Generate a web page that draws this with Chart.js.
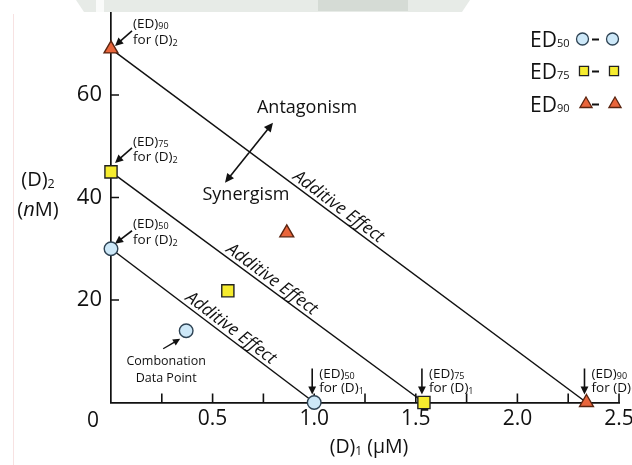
<!DOCTYPE html>
<html>
<head>
<meta charset="utf-8">
<script src="https://cdn.jsdelivr.net/npm/chart.js@4.4.0/dist/chart.umd.min.js"></script>
<style>
	html, body { margin: 0; padding: 0; background: #fff; }
	#wrap { width: 632px; height: 465px; }
</style>
</head>
<body>
<div id="wrap"><canvas id="isoChart" width="632" height="465"></canvas></div>
<script>
/* DATA */
var levels = ['ED50', 'ED75', 'ED90'];
var levelSubs = ['50', '75', '90'];
var d2Alone = [30, 45, 69];          // (D)2 alone, nM  (y intercepts)
var d1Alone = [1.0, 1.54, 2.34];     // (D)1 alone, uM  (x intercepts)
var comboD1 = [0.37, 0.575, 0.865];  // combination data points
var comboD2 = [14, 21.8, 33.1];
var xTickLabels = [0.5, 1.0, 1.5, 2.0, 2.5];
var yTickLabels = [20, 40, 60];

var FONT = '"Open Sans", "DejaVu Sans", sans-serif';
var INK = '#111';

var markers = [
	{ style: 'circle',   radius: 6.8, legendRadius: 6,   fill: '#cde8f8', edge: '#2e4354' },
	{ style: 'rect',     radius: 8.6, legendRadius: 6.4, fill: '#f6ec2e', edge: '#222222' },
	{ style: 'triangle', radius: 8,   legendRadius: 7,   fill: '#e9653b', edge: '#5a2410' }
];

// where the "Additive Effect" label sits along each line (0 = y axis end)
var additivePos = [0.563, 0.497, 0.467];

/* DATASETS */
var datasets = [];
var i;
for (i = 0; i < levels.length; i++) {
	datasets.push({
		label: levels[i] + ' isobole',
		data: [{ x: 0, y: d2Alone[i] }, { x: d1Alone[i], y: 0 }],
		showLine: true,
		borderColor: INK,
		borderWidth: 1.5,
		pointStyle: markers[i].style,
		pointRadius: markers[i].radius,
		pointBackgroundColor: markers[i].fill,
		pointBorderColor: markers[i].edge,
		pointBorderWidth: 1.4,
		clip: false
	});
}
for (i = 0; i < levels.length; i++) {
	datasets.push({
		label: levels[i] + ' combination',
		data: [{ x: comboD1[i], y: comboD2[i] }],
		showLine: false,
		pointStyle: markers[i].style,
		pointRadius: markers[i].radius,
		pointBackgroundColor: markers[i].fill,
		pointBorderColor: markers[i].edge,
		pointBorderWidth: 1.4,
		clip: false
	});
}

/* DRAW HELPERS */
function runs(ctx, parts, x, y, align) {
	// parts: [text, size, dy, italic]
	var w = 0;
	parts.forEach(function (p) {
		ctx.font = (p[3] ? 'italic ' : '') + p[1] + 'px ' + FONT;
		w += ctx.measureText(p[0]).width;
	});
	var cx = align === 'center' ? x - w / 2 : (align === 'right' ? x - w : x);
	ctx.textAlign = 'left';
	ctx.textBaseline = 'alphabetic';
	parts.forEach(function (p) {
		ctx.font = (p[3] ? 'italic ' : '') + p[1] + 'px ' + FONT;
		ctx.fillText(p[0], cx, y + (p[2] || 0));
		cx += ctx.measureText(p[0]).width;
	});
}

function arrow(ctx, x1, y1, x2, y2, head) {
	var a = Math.atan2(y2 - y1, x2 - x1);
	ctx.beginPath();
	ctx.moveTo(x1, y1);
	ctx.lineTo(x2 - Math.cos(a) * head * 0.7, y2 - Math.sin(a) * head * 0.7);
	ctx.stroke();
	ctx.beginPath();
	ctx.moveTo(x2, y2);
	ctx.lineTo(x2 - head * Math.cos(a - 0.45), y2 - head * Math.sin(a - 0.45));
	ctx.lineTo(x2 - head * Math.cos(a + 0.45), y2 - head * Math.sin(a + 0.45));
	ctx.closePath();
	ctx.fill();
}

function mark(ctx, m, x, y) {
	ctx.fillStyle = m.fill;
	ctx.strokeStyle = m.edge;
	ctx.lineWidth = 1.3;
	Chart.helpers.drawPoint(ctx, { pointStyle: m.style, radius: m.legendRadius, rotation: 0, borderWidth: 1.3 }, x, y);
}

/* PLUGIN: background, ticks, labels, annotations, legend */
var isoPlugin = {
	id: 'isoPlugin',
	beforeDraw: function (chart) {
		var ctx = chart.ctx;
		ctx.save();
		ctx.fillStyle = '#fff';
		ctx.fillRect(0, 0, chart.width, chart.height);
		// faint scan remains along the top edge and left margin
		ctx.fillStyle = '#e7ebe7';
		ctx.beginPath();
		ctx.moveTo(76, 0); ctx.lineTo(470, 0); ctx.lineTo(462, 12); ctx.lineTo(84, 12);
		ctx.closePath();
		ctx.fill();
		ctx.fillStyle = '#d5dbd5';
		ctx.fillRect(318, 0, 90, 11);
		ctx.fillStyle = '#fafbfa';
		ctx.fillRect(96, 0, 8, 12);
		ctx.strokeStyle = '#f7e2e2';
		ctx.lineWidth = 1;
		ctx.beginPath();
		ctx.moveTo(13.5, 14);
		ctx.lineTo(13.5, chart.height);
		ctx.stroke();
		ctx.restore();
	},
	beforeDatasetsDraw: function (chart) {
		var ctx = chart.ctx, xs = chart.scales.x, ys = chart.scales.y;
		var area = chart.chartArea;
		ctx.save();
		ctx.strokeStyle = INK;
		ctx.lineWidth = 1.6;
		ctx.beginPath();
		xs.ticks.forEach(function (t) {
			if (t.value <= 0) return;
			var px = xs.getPixelForValue(t.value);
			ctx.moveTo(px, area.bottom);
			ctx.lineTo(px, area.bottom - 9);
		});
		yTickLabels.forEach(function (v) {
			var py = ys.getPixelForValue(v);
			ctx.moveTo(area.left, py);
			ctx.lineTo(area.left + 8, py);
		});
		ctx.stroke();
		ctx.restore();
	},
	afterDatasetsDraw: function (chart) {
		var ctx = chart.ctx, xs = chart.scales.x, ys = chart.scales.y;
		var area = chart.chartArea;
		ctx.save();
		ctx.fillStyle = INK;
		ctx.strokeStyle = INK;
		ctx.lineWidth = 1.6;

		// shared origin label
		ctx.font = '21px ' + FONT;
		ctx.textAlign = 'center';
		ctx.textBaseline = 'alphabetic';
		ctx.fillText('0', xs.getPixelForValue(0) - 18, area.bottom + 24);

		// axis titles
		runs(ctx, [['(D)', 19.5], ['1', 12, 2], [' (\u00b5M)', 19.5]], (area.left + area.right) / 2 + 4, 453, 'center');
		runs(ctx, [['(D)', 20], ['2', 12.5, 2]], 38, 186, 'center');
		runs(ctx, [['(', 20], ['n', 20, 0, true], ['M)', 20]], 38, 216, 'center');

		// "Additive Effect" along each line
		for (var k = 0; k < levels.length; k++) {
			var x0 = xs.getPixelForValue(0), y0 = ys.getPixelForValue(d2Alone[k]);
			var x1 = xs.getPixelForValue(d1Alone[k]), y1 = ys.getPixelForValue(0);
			var ang = Math.atan2(y1 - y0, x1 - x0);
			var t = additivePos[k];
			ctx.save();
			ctx.translate(x0 + (x1 - x0) * t, y0 + (y1 - y0) * t);
			ctx.rotate(ang);
			ctx.font = 'italic 17.5px ' + FONT;
			ctx.textAlign = 'center';
			ctx.textBaseline = 'alphabetic';
			ctx.fillText('Additive Effect', 0, -4);
			ctx.restore();
		}

		// (ED) labels for (D)2 on the y axis
		var leftOff = [[-21, -5, -18, -5], [-26, -11, -24, -9], [-21, -5, -18, -3]];
		for (k = 0; k < levels.length; k++) {
			var mx = xs.getPixelForValue(0), my = ys.getPixelForValue(d2Alone[k]);
			var o = leftOff[k];
			runs(ctx, [['(ED)', 13.5], [levelSubs[k], 9, 1]], mx + 22, my + o[0], 'left');
			runs(ctx, [['for (D)', 13.5], ['2', 9, 2]], mx + 22, my + o[1], 'left');
			arrow(ctx, mx + 21, my + o[2], mx + 4, my + o[3], 9);
		}

		// (ED) labels for (D)1 on the x axis
		for (k = 0; k < levels.length; k++) {
			var bx = xs.getPixelForValue(d1Alone[k]), by = ys.getPixelForValue(0);
			runs(ctx, [['(ED)', 13.5], [levelSubs[k], 9, 1]], bx + 5, by - 25, 'left');
			runs(ctx, [['for (D)', 13.5], ['1', 9, 2]], bx + 5, by - 11, 'left');
			arrow(ctx, bx - 2, by - 34, bx - 2, by - 8, 9);
		}

		// Antagonism / Synergism
		ctx.font = '18px ' + FONT;
		ctx.textAlign = 'center';
		ctx.textBaseline = 'alphabetic';
		ctx.fillText('Antagonism', xs.getPixelForValue(0.965), ys.getPixelForValue(56.4));
		ctx.fillText('Synergism', xs.getPixelForValue(0.664), ys.getPixelForValue(39.6));
		var ax1 = xs.getPixelForValue(0.561), ay1 = ys.getPixelForValue(42.9);
		var ax2 = xs.getPixelForValue(0.797), ay2 = ys.getPixelForValue(54.6);
		arrow(ctx, (ax1 + ax2) / 2, (ay1 + ay2) / 2, ax2, ay2, 10);
		arrow(ctx, (ax1 + ax2) / 2, (ay1 + ay2) / 2, ax1, ay1, 10);

		// combination data point note
		var cx = xs.getPixelForValue(comboD1[0]), cy = ys.getPixelForValue(comboD2[0]);
		ctx.font = '12.5px ' + FONT;
		ctx.fillText('Combonation', cx - 20, cy + 34);
		ctx.fillText('Data Point', cx - 20, cy + 51);
		ctx.lineWidth = 1.4;
		arrow(ctx, cx - 23, cy + 18, cx - 6, cy + 8, 8);

		// legend
		var legY = [39, 71, 104];
		var legX1 = [582.5, 584, 586];
		var legX2 = [612.5, 614, 615];
		for (k = 0; k < levels.length; k++) {
			ctx.fillStyle = INK;
			runs(ctx, [['ED', 21], [levelSubs[k], 11, 0]], 530, legY[k] + 7.5, 'left');
			ctx.strokeStyle = INK;
			ctx.lineWidth = 2;
			ctx.beginPath();
			ctx.moveTo(592, legY[k] + 0.5);
			ctx.lineTo(599, legY[k] + 0.5);
			ctx.stroke();
			mark(ctx, markers[k], legX1[k], legY[k]);
			mark(ctx, markers[k], legX2[k], legY[k]);
		}
		ctx.restore();
	}
};

/* CHART */
var ctxIso = document.getElementById('isoChart').getContext('2d');
var isoChart = new Chart(ctxIso, {
	type: 'scatter',
	data: { datasets: datasets },
	plugins: [isoPlugin],
	options: {
		responsive: false,
		animation: false,
		events: [],
		layout: { padding: { top: 13, right: 13, left: 0, bottom: 0 } },
		plugins: {
			legend: { display: false },
			tooltip: { enabled: false }
		},
		scales: {
			x: {
				type: 'linear',
				min: 0,
				max: 2.5,
				grid: { display: false, drawTicks: false },
				border: { display: true, color: INK, width: 1.7 },
				ticks: {
					stepSize: 0.25,
					autoSkip: false,
					maxRotation: 0,
					padding: 4,
					color: INK,
					font: { family: FONT, size: 21 },
					callback: function (v) {
						for (var j = 0; j < xTickLabels.length; j++) {
							if (Math.abs(xTickLabels[j] - v) < 1e-6) return v.toFixed(1);
						}
						return '';
					}
				},
				afterFit: function (scale) {
					scale.height = 62.5;
					scale.paddingLeft = 0;
					scale.paddingRight = 0;
				}
			},
			y: {
				type: 'linear',
				min: 0,
				max: 76,
				grid: { display: false, drawTicks: false },
				border: { display: true, color: INK, width: 1.7 },
				ticks: {
					stepSize: 20,
					includeBounds: false,
					padding: 9,
					color: INK,
					font: { family: FONT, size: 22 },
					callback: function (v) {
						return yTickLabels.indexOf(v) >= 0 ? String(v) : '';
					}
				},
				afterFit: function (scale) {
					scale.width = 111;
					scale.paddingTop = 0;
					scale.paddingBottom = 0;
				}
			}
		}
	}
});
</script>
</body>
</html>
